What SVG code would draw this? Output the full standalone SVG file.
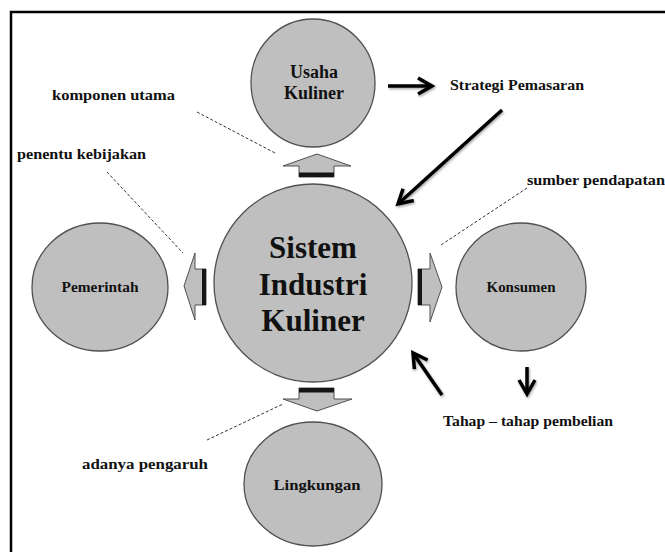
<svg xmlns="http://www.w3.org/2000/svg" width="665" height="552" viewBox="0 0 665 552">
<style>
.node ellipse{fill:#bfbfbf;stroke:#505050;stroke-width:1.3}
.t{font-family:"Liberation Serif","Times New Roman",serif;font-weight:bold;fill:#111;text-anchor:middle}
.lbl{font-family:"Liberation Serif","Times New Roman",serif;font-weight:bold;fill:#111;font-size:14px}
.block{fill:#bfbfbf;stroke:#505050;stroke-width:1}
.band{fill:#151515}
.dash{stroke:#333;stroke-width:1;stroke-dasharray:3 2;fill:none}
.bar{stroke:#000;stroke-width:3.5;fill:none;marker-end:url(#chev)}
</style>
<defs>
<marker id="chev" markerUnits="userSpaceOnUse" markerWidth="24" markerHeight="24" refX="17" refY="12" orient="auto" viewBox="0 0 24 24">
<path d="M3,4 L17,12 L3,20" fill="none" stroke="#000" stroke-width="3.5" stroke-linejoin="miter"/>
</marker>
<filter id="sh" filterUnits="userSpaceOnUse" x="0" y="0" width="665" height="552">
<feDropShadow dx="1" dy="1.5" stdDeviation="1.2" flood-color="#000" flood-opacity="0.35"/>
</filter>
</defs>
<rect width="665" height="552" fill="#fff"/>
<path d="M11,552 V12 H665" fill="none" stroke="#000" stroke-width="2.5"/>

<g id="usaha-kuliner" class="node">
<ellipse cx="313" cy="83" rx="62" ry="64"/>
<text class="t" x="314" y="78" font-size="18">Usaha</text>
<text class="t" x="314" y="99" font-size="18">Kuliner</text>
</g>
<g id="sistem-industri-kuliner" class="node">
<ellipse cx="313" cy="283" rx="99" ry="99"/>
<text class="t" x="313" y="258" font-size="31">Sistem</text>
<text class="t" x="313" y="295" font-size="31">Industri</text>
<text class="t" x="313" y="331" font-size="31">Kuliner</text>
</g>
<g id="pemerintah" class="node">
<ellipse cx="100" cy="287" rx="68" ry="64"/>
<text class="t" x="100" y="292" font-size="14" textLength="77" lengthAdjust="spacingAndGlyphs">Pemerintah</text>
</g>
<g id="konsumen" class="node">
<ellipse cx="521" cy="287" rx="65" ry="64"/>
<text class="t" x="521" y="292" font-size="14" textLength="69" lengthAdjust="spacingAndGlyphs">Konsumen</text>
</g>
<g id="lingkungan" class="node">
<ellipse cx="313" cy="484" rx="69" ry="62"/>
<text class="t" x="317" y="490" font-size="14" textLength="87" lengthAdjust="spacingAndGlyphs">Lingkungan</text>
</g>

<g id="connectors">
<polygon class="block" points="299,177 299,166 283,166 317,154 351,166 334,166 334,177"/>
<rect class="band" x="299" y="172.5" width="35" height="4.5"/>
<polygon class="block" points="206,269 195,269 195,253 184,286 195,320 195,305 206,305"/>
<rect class="band" x="202" y="269" width="4" height="36"/>
<polygon class="block" points="418,269 430,269 430,253 442,287 430,322 430,305 418,305"/>
<rect class="band" x="418" y="269" width="4" height="36"/>
<polygon class="block" points="299,388 334,388 334,399 352,399 317,411 283,399 299,399"/>
<rect class="band" x="299" y="388" width="35" height="4.5"/>

<g filter="url(#sh)">
<line class="bar" x1="388" y1="86" x2="432" y2="86"/>
<line class="bar" x1="502" y1="110" x2="398" y2="204"/>
<line class="bar" x1="442" y1="395" x2="413" y2="353"/>
<line class="bar" x1="527" y1="367" x2="527" y2="394"/>
</g>

<line class="dash" x1="197" y1="112" x2="275" y2="153"/>
<line class="dash" x1="107" y1="172" x2="183" y2="253"/>
<line class="dash" x1="527" y1="188" x2="441" y2="245"/>
<line class="dash" x1="207" y1="440" x2="283" y2="404"/>
</g>

<g id="labels">
<text class="lbl" x="450" y="90" font-size="15" textLength="134" lengthAdjust="spacingAndGlyphs">Strategi Pemasaran</text>
<text class="lbl" x="52" y="100" textLength="123" lengthAdjust="spacingAndGlyphs">komponen utama</text>
<text class="lbl" x="17" y="159" textLength="129" lengthAdjust="spacingAndGlyphs">penentu kebijakan</text>
<text class="lbl" x="527" y="185" textLength="138" lengthAdjust="spacingAndGlyphs">sumber pendapatan</text>
<text class="lbl" x="82" y="469" textLength="126" lengthAdjust="spacingAndGlyphs">adanya pengaruh</text>
<text class="lbl" x="443" y="426" textLength="170" lengthAdjust="spacingAndGlyphs">Tahap – tahap pembelian</text>
</g>
</svg>
